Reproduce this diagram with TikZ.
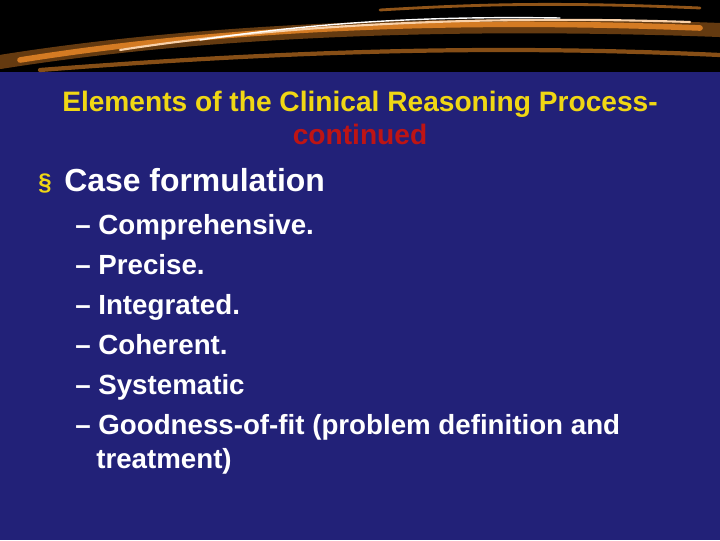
\documentclass[tikz,border=0pt]{standalone}
\usepackage{fontspec}
\setmainfont{Liberation Sans}
\definecolor{navy}{RGB}{34,33,120}
\definecolor{ttl}{RGB}{240,215,20}
\definecolor{cont}{RGB}{190,20,20}
\definecolor{flame}{RGB}{240,140,40}
\begin{document}
\begin{tikzpicture}[x=0.025cm,y=-0.025cm,
  item/.style={anchor=base west,text=white,font=\bfseries\fontsize{19.7}{22}\selectfont,inner sep=0pt},
  ttlstyle/.style={anchor=base,font=\bfseries\fontsize{20}{22}\selectfont,inner sep=0pt},
  streak/.style={line cap=round}]
\useasboundingbox (0,0) rectangle (720,540);
\fill[navy] (0,0) rectangle (720,540);
\fill[black] (0,0) rectangle (720,72);
\begin{scope}
\clip (0,0) rectangle (720,72);
\draw[streak,flame!70!black,line width=10pt,opacity=0.6] (0,62) .. controls (200,30) and (450,20) .. (720,30);
\draw[streak,flame,line width=4pt,opacity=0.8] (20,60) .. controls (220,28) and (450,18) .. (700,28);
\draw[streak,flame!40!white,line width=1.5pt] (120,50) .. controls (280,25) and (480,15) .. (690,22);
\draw[streak,white,line width=1pt] (200,40) .. controls (320,22) and (430,16) .. (560,18);
\draw[streak,flame!80!black,line width=3pt,opacity=0.7] (40,70) .. controls (300,50) and (500,45) .. (720,55);
\draw[streak,flame,line width=2pt,opacity=0.6] (380,10) .. controls (480,4) and (560,2) .. (700,8);
\end{scope}
\node[ttlstyle,text=ttl] (title) at (360,111) {Elements of the Clinical Reasoning Process-};
\node[ttlstyle,text=cont] (title2) at (360,144) {continued};
\node[anchor=base west,text=ttl,font=\bfseries\fontsize{17}{18}\selectfont,inner sep=0pt] (b) at (38,190) {§};
\node[item,font=\bfseries\fontsize{22.7}{26}\selectfont] (case) at (64,191) {Case formulation};
\node[item] (i1) at (75,234) {– Comprehensive.};
\node[item] (i2) at (75,274) {– Precise.};
\node[item] (i3) at (75,314) {– Integrated.};
\node[item] (i4) at (75,354) {– Coherent.};
\node[item] (i5) at (75,394) {– Systematic};
\node[item] (i6) at (75,434) {– Goodness-of-fit (problem definition and};
\node[item] (i7) at (96,468) {treatment)};
\end{tikzpicture}
\end{document}
